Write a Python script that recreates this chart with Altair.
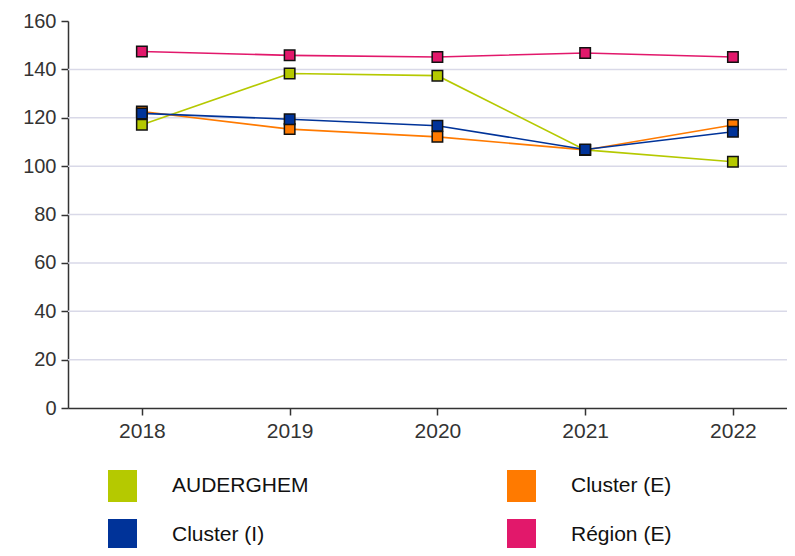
import altair as alt
import pandas as pd

years = [2018, 2019, 2020, 2021, 2022]
series_names = ["AUDERGHEM", "Cluster (E)", "Cluster (I)", "Région (E)"]
auderghem = [117.1, 138.3, 137.4, 106.7, 101.8]
cluster_e = [122.6, 115.3, 112.1, 106.7, 117.0]
cluster_i = [121.8, 119.4, 116.7, 106.9, 114.2]
region_e = [147.4, 145.8, 145.1, 146.8, 145.1]
colors = ["#b5c900", "#ff7a00", "#003399", "#e2186b"]
y_ticks = [0, 20, 40, 60, 80, 100, 120, 140, 160]
grid_vals = [20, 40, 60, 80, 100, 120, 140]

rows = []
for name, vals in zip(series_names, [auderghem, cluster_e, cluster_i, region_e]):
    for yr, v in zip(years, vals):
        rows.append({"year": yr, "value": v, "series": name, "line_series": name})
df = pd.DataFrame(rows)
grid_df = pd.DataFrame({"value": grid_vals})

FONT = "Liberation Sans"
xscale = alt.Scale(domain=[2017.5, 2022.366], nice=False, zero=False)
yscale = alt.Scale(domain=[0, 160], nice=False)

x_axis = alt.Axis(
    values=years, format="d", title=None, grid=False, tickSize=7,
    labelPadding=5, labelFontSize=21, labelColor="#333", labelFont=FONT,
    domainColor="#333", domainWidth=1.5, tickColor="#333", tickWidth=1.5,
)
y_axis = alt.Axis(
    values=y_ticks, title=None, grid=False, tickSize=7, labelPadding=5,
    labelFontSize=20, labelColor="#333", labelFont=FONT,
    domainColor="#333", domainWidth=1.5, tickColor="#333", tickWidth=1.5,
)
x_enc = alt.X("year:Q", scale=xscale, axis=x_axis)
y_enc = alt.Y("value:Q", scale=yscale, axis=y_axis)

grid = alt.Chart(grid_df).mark_rule(color="#d9d9e8", strokeWidth=1.5).encode(
    y=y_enc
)

lines = alt.Chart(df).mark_line(strokeWidth=1.6).encode(
    x=x_enc, y=y_enc,
    stroke=alt.Stroke("line_series:N", scale=alt.Scale(domain=series_names, range=colors), legend=None),
    order=alt.Order("year:Q"),
)

points = alt.Chart(df).mark_point(
    shape="square", filled=True, size=110, stroke="#111", strokeWidth=1.5, opacity=1
).encode(
    x=x_enc, y=y_enc,
    fill=alt.Fill("series:N", scale=alt.Scale(domain=series_names, range=colors),
                  legend=alt.Legend(
                      title=None, orient="none", legendX=38.5, legendY=449,
                      direction="horizontal",
                      columns=2, columnPadding=196, rowPadding=17, padding=0,
                      symbolType="M-0.906,-1H0.906V1H-0.906Z", symbolSize=1024,
                      symbolStrokeWidth=0, symbolOpacity=1,
                      labelFontSize=21, labelFont=FONT, labelColor="#111",
                      labelOffset=33.5, labelLimit=400,
                  )),
)

chart = alt.layer(grid, lines, points).resolve_scale(fill="independent", stroke="independent").properties(
    width=719, height=387,
    padding={"left": 60, "top": 13, "right": 0, "bottom": 140},
    autosize=alt.AutoSizeParams(type="none"),
).configure_view(stroke=None)

chart.save("out.html", embed_options={"renderer": "svg", "actions": False})
